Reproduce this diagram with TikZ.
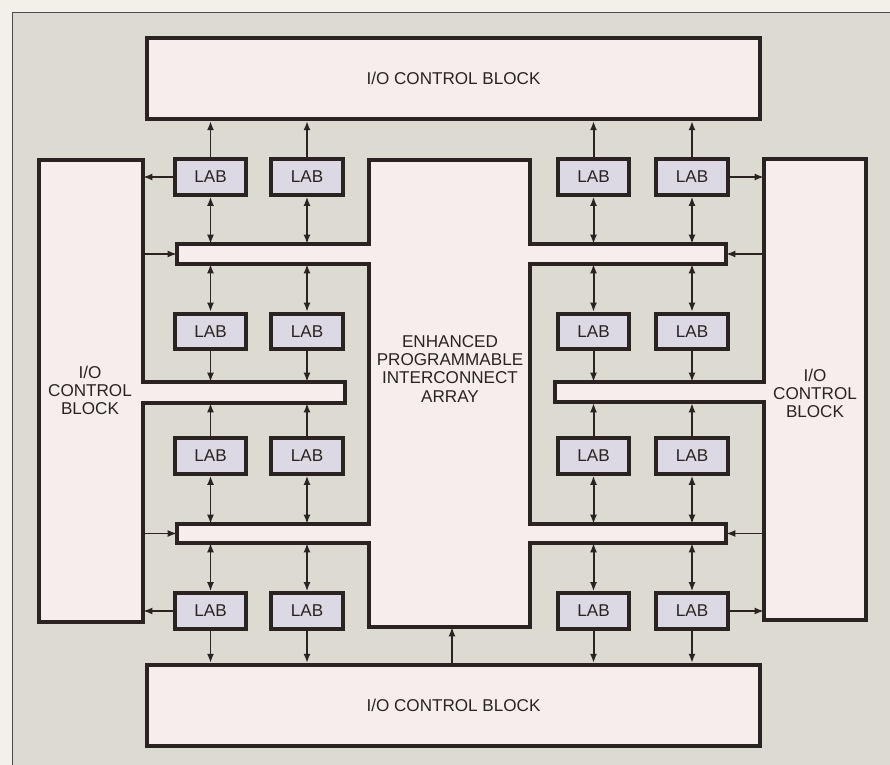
\documentclass[tikz,border=0pt]{standalone}
\usepackage{fontspec}
\setmainfont{Liberation Sans}
\usepackage{xcolor}
\usepackage{tikz}
\usetikzlibrary{arrows.meta}
\definecolor{paper}{HTML}{F2F0E9}
\definecolor{board}{HTML}{DDDAD2}
\definecolor{blockfill}{HTML}{F7EDED}
\definecolor{labfill}{HTML}{DCD9E4}
\definecolor{ink}{HTML}{2B2222}
\tikzset{every node/.append style={font=\fontsize{14.6}{15.4}\selectfont, text=ink}}

\begin{document}
\begin{tikzpicture}[x=0.03cm, y=-0.03cm, >={Latex[length=8pt,width=6pt]},
    blk/.style={draw=ink, line width=3.2pt, fill=blockfill, line join=miter},
    lab/.style={draw=ink, line width=3.2pt, fill=labfill, minimum width=2.14cm, minimum height=1.06cm, inner sep=0pt},
    link/.style={draw=ink, line width=1.7pt}]
    \useasboundingbox (0,0) rectangle (890,765);
    \fill[paper] (0,0) rectangle (890,765);
    \fill[board] (12,12) rectangle (890,765);
    \draw[gray!60!black, line width=0.7pt] (12,765) -- (12,12) -- (890,12);

    % I/O control blocks
    \node[blk, minimum width=18.39cm, minimum height=2.43cm] (iotop) at (453.5,78.5) {I/O CONTROL BLOCK};
    \node[blk, minimum width=18.39cm, minimum height=2.43cm] (iobot) at (453.5,705.5) {I/O CONTROL BLOCK};
    \draw[blk] (39,160) -- (143,160) -- (143,382) -- (345,382) -- (345,403) -- (143,403) -- (143,622) -- (39,622) -- cycle;
    \node[align=center] (ioleft) at (90,390) {I/O\\CONTROL\\BLOCK};
    \draw[blk] (764,159) -- (866,159) -- (866,620) -- (764,620) -- (764,402) -- (555,402) -- (555,382) -- (764,382) -- cycle;
    \node[align=center] (ioright) at (815,393) {I/O\\CONTROL\\BLOCK};

    % interconnect array with its two buses
    \draw[blk] (369,160) -- (530,160) -- (530,244) -- (726,244) -- (726,264) -- (530,264) -- (530,524) -- (726,524)
        -- (726,543) -- (530,543) -- (530,627) -- (369,627) -- (369,543) -- (177,543) -- (177,524) -- (369,524)
        -- (369,264) -- (177,264) -- (177,244) -- (369,244) -- cycle;
    \node[align=center] (epia) at (450,369) {ENHANCED\\PROGRAMMABLE\\INTERCONNECT\\ARRAY};

    \coordinate (tbusN) at (0,244);
    \coordinate (tbusS) at (0,264);
    \coordinate (armN) at (0,382);
    \coordinate (armS) at (0,403);
    \coordinate (bbusN) at (0,524);
    \coordinate (bbusS) at (0,543);
    \coordinate (ioLedge) at (143,0);
    \coordinate (ioRedge) at (764,0);
    \coordinate (tbusW) at (177,254);
    \coordinate (tbusE) at (726,254);
    \coordinate (bbusW) at (177,533.5);
    \coordinate (bbusE) at (726,533.5);
    \coordinate (epiaS) at (452,627);

    % logic array blocks
    \foreach \c/\x in {a/210.5, b/307, c/593.5, d/692}
        \foreach \r/\y in {1/177, 2/331.5, 3/456, 4/611}
            \node[lab] (lab\r\c) at (\x,\y) {LAB};

    \foreach \c in {a, b, c, d} {
        \draw[link, ->] (lab1\c.north) -- (lab1\c.north |- iotop.south);
        \draw[link, <->] (lab1\c.south) -- (lab1\c.south |- tbusN);
        \draw[link, <->] (lab2\c.north) -- (lab2\c.north |- tbusS);
        \draw[link, ->] (lab2\c.south) -- (lab2\c.south |- armN);
        \draw[link, ->] (lab3\c.north) -- (lab3\c.north |- armS);
        \draw[link, <->] (lab3\c.south) -- (lab3\c.south |- bbusN);
        \draw[link, <->] (lab4\c.north) -- (lab4\c.north |- bbusS);
        \draw[link, ->] (lab4\c.south) -- (lab4\c.south |- iobot.north);
    }
    \draw[link, ->] (lab1a.west) -- (lab1a.west -| ioLedge);
    \draw[link, ->] (lab4a.west) -- (lab4a.west -| ioLedge);
    \draw[link, ->] (lab1d.east) -- (lab1d.east -| ioRedge);
    \draw[link, ->] (lab4d.east) -- (lab4d.east -| ioRedge);
    \draw[link, ->] (tbusW -| ioLedge) -- (tbusW);
    \draw[link, ->] (bbusW -| ioLedge) -- (bbusW);
    \draw[link, ->] (tbusE -| ioRedge) -- (tbusE);
    \draw[link, ->] (bbusE -| ioRedge) -- (bbusE);
    \draw[link, ->] (epiaS |- iobot.north) -- (epiaS);
\end{tikzpicture}
\end{document}
